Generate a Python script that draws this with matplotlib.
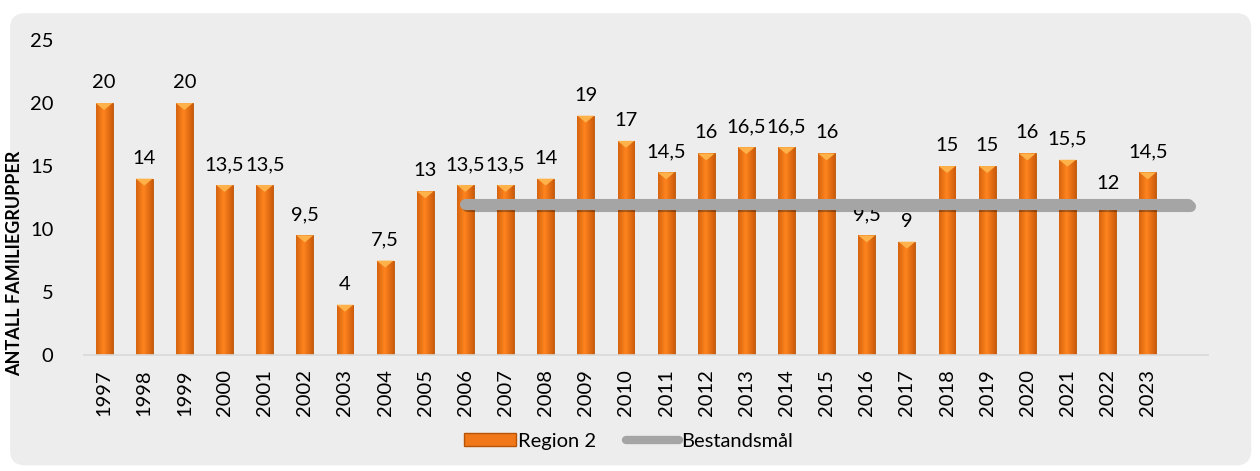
import numpy as np
import matplotlib.pyplot as plt
from matplotlib.patches import FancyBboxPatch, Polygon
from matplotlib.lines import Line2D
import matplotlib.patheffects as pe

plt.rcParams['font.family'] = ['Lato', 'DejaVu Sans']

years = ['1997', '1998', '1999', '2000', '2001', '2002', '2003', '2004', '2005',
         '2006', '2007', '2008', '2009', '2010', '2011', '2012', '2013', '2014',
         '2015', '2016', '2017', '2018', '2019', '2020', '2021', '2022', '2023']
region2 = [20, 14, 20, 13.5, 13.5, 9.5, 4, 7.5, 13, 13.5, 13.5, 14, 19, 17, 14.5,
           16, 16.5, 16.5, 16, 9.5, 9, 15, 15, 16, 15.5, 12, 14.5]
# target line runs 2006 -> one empty category after 2023
target_start = '2006'
target_value = 12

labels = years + ['']
x = np.arange(len(labels))
xb = np.arange(len(years))

fig = plt.figure(figsize=(12.6, 4.71), dpi=100)
bg = FancyBboxPatch((0.008, 0.012), 0.985, 0.96, boxstyle="round,pad=0,rounding_size=0.012",
                    transform=fig.transFigure, facecolor='#EDEDED', edgecolor='none',
                    mutation_aspect=1260/471, zorder=-10)
fig.patches.append(bg)

ax = fig.add_axes([0.0667, 0.246, 0.892, 0.669])
ax.set_facecolor('none')

w = 0.42
bars = ax.bar(xb, region2, width=w, color='#F07818', edgecolor='#B85408', linewidth=0.6,
              zorder=2, label='Region 2')

# horizontal gradient on each bar
grad = np.linspace(0, 1, 64)
shade = 1 - np.abs(grad - 0.45) * 1.4
cols = np.zeros((1, 64, 3))
dark = np.array([0.74, 0.31, 0.02])
light = np.array([1.0, 0.52, 0.12])
for i in range(64):
    t = np.clip(shade[i], 0, 1)
    cols[0, i] = dark + (light - dark) * t
for b in bars:
    im = ax.imshow(cols, extent=(b.get_x(), b.get_x() + b.get_width(), 0, b.get_height()),
                   aspect='auto', zorder=2.1, interpolation='bilinear')
    im.set_clip_path(b)
    # little bevel triangle on top
    top = b.get_height()
    xl = b.get_x()
    xr = xl + b.get_width()
    tri = Polygon([(xl, top), (xr, top), ((xl + xr) / 2, top - 0.55)], closed=True,
                  facecolor='#FFB24A', edgecolor='none', zorder=2.2)
    ax.add_patch(tri)

for xi, v in zip(xb, region2):
    txt = f'{v:g}'.replace('.', ',')
    ax.text(xi, v + 0.95, txt, ha='center', va='bottom', fontsize=14.5, color='#000000')

i0 = years.index(target_start)
tx = x[i0:]
ax.plot(tx, [target_value] * len(tx), color='#A5A5A5', linewidth=8, solid_capstyle='round',
        zorder=3, path_effects=[pe.SimpleLineShadow(offset=(1.5, -1.5), alpha=0.3),
                                pe.Normal()])

ax.set_xlim(-0.5, len(labels) - 0.5)
ax.set_ylim(0, 25)
ax.set_yticks(np.arange(0, 26, 5))
ax.set_xticks(x)
ax.set_xticklabels(labels, rotation=90, fontsize=14.5)
ax.tick_params(axis='y', length=0, pad=22, labelsize=14.5)
ax.tick_params(axis='x', length=0, pad=10)
for s in ['top', 'right', 'left']:
    ax.spines[s].set_visible(False)
ax.spines['bottom'].set_color('#D9D9D9')
ax.spines['bottom'].set_linewidth(1.2)

ax.set_ylabel('ANTALL FAMILIEGRUPPER', fontsize=13, fontweight='bold')
ax.yaxis.set_label_coords(-0.054, -0.065, transform=ax.transAxes)
ax.yaxis.label.set_va('bottom')
ax.yaxis.label.set_ha('left')

handles = [plt.Rectangle((0, 0), 1, 1, facecolor='#F07818', edgecolor='#B85408'),
           Line2D([0], [0], color='#A5A5A5', linewidth=6, solid_capstyle='round')]
fig.legend(handles, ['Region 2', 'Bestandsmål'], loc='center', bbox_to_anchor=(0.4985, 0.063),
           ncol=2, frameon=False, fontsize=14.5, handlelength=2.6, handleheight=0.6,
           columnspacing=1.5, handletextpad=0.1)

fig.savefig('out.png', dpi=100)
